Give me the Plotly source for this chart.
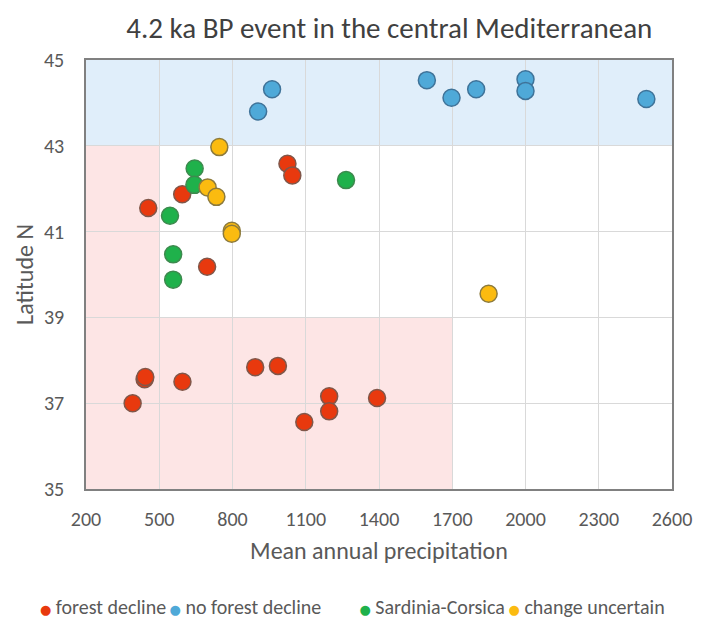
import plotly.graph_objects as go

# ---- data ----
decline_x = [1025, 1045, 594, 455, 696, 440, 443, 391, 595, 893, 986, 1196, 1196, 1094, 1392]
decline_y = [42.58, 42.31, 41.87, 41.55, 40.18, 37.56, 37.61, 37.0, 37.5, 37.84, 37.87, 37.16, 36.81, 36.56, 37.12]

nodecl_x = [962, 905, 1596, 1697, 1798, 2000, 2000, 2495]
nodecl_y = [44.32, 43.80, 44.53, 44.12, 44.32, 44.55, 44.28, 44.09]

sardc_x = [645, 644, 1265, 544, 557, 557]
sardc_y = [42.47, 42.09, 42.2, 41.37, 40.47, 39.88]

uncert_x = [746, 698, 734, 797, 797, 1849]
uncert_y = [42.97, 42.03, 41.81, 41.02, 40.95, 39.55]

series_names = ["forest decline", "no forest decline", "Sardinia-Corsica", "change uncertain"]
series_colors = ["#e8390e", "#4fa9d8", "#1fb14b", "#fbbb10"]
outline_colors = ["#80574a", "#3f7399", "#3d8a4e", "#8c7a3c"]

# shaded zones (data units)
north_zone = dict(x0=200, x1=2600, y0=43, y1=45)
dry_zone_a = dict(x0=200, x1=500, y0=35, y1=43)
dry_zone_b = dict(x0=500, x1=1700, y0=35, y1=39)

x_range = [200, 2600]
y_range = [35, 45]
x_ticks = [200, 500, 800, 1100, 1400, 1700, 2000, 2300, 2600]
y_ticks = [35, 37, 39, 41, 43, 45]

FONT = "Carlito, Lato, 'Open Sans', sans-serif"

# one legend box per entry, laid out in a row along the bottom
legend_ids = ["legend", "legend2", "legend3", "legend4"]
legend_x = [-0.0135, 0.184, 0.4538, 0.6655]

fig = go.Figure()

all_x = [decline_x, nodecl_x, sardc_x, uncert_x]
all_y = [decline_y, nodecl_y, sardc_y, uncert_y]

for xs, ys, name, col, oc in zip(all_x, all_y, series_names, series_colors, outline_colors):
    fig.add_trace(go.Scatter(
        x=xs, y=ys, mode="markers", name=name, showlegend=False,
        marker=dict(size=17, color=col, line=dict(color=oc, width=1.5)),
    ))

# legend entries: coloured bullet set tight against the label
for name, col, lid in zip(series_names, series_colors, legend_ids):
    label = f"<span style='color:{col};font-family:DejaVu Sans;font-size:13px'>●</span> {name}"
    fig.add_trace(go.Scatter(
        x=[None], y=[None], mode="markers", name=label, legend=lid,
        marker=dict(size=1, color="rgba(0,0,0,0)", line=dict(width=0, color="rgba(0,0,0,0)")),
    ))

shape_style_pink = dict(fillcolor="#fde5e5", line=dict(width=0), layer="below", type="rect", xref="x", yref="y")
shape_style_blue = dict(fillcolor="#e0eefa", line=dict(width=0), layer="below", type="rect", xref="x", yref="y")

fig.add_shape(**north_zone, **shape_style_blue)
fig.add_shape(**dry_zone_a, **shape_style_pink)
fig.add_shape(**dry_zone_b, **shape_style_pink)

fig.update_layout(
    width=704, height=624,
    margin=dict(l=86, r=25, t=60, b=135),
    paper_bgcolor="white", plot_bgcolor="white",
    font=dict(family=FONT, color="#595959", size=19),
    title=dict(text="4.2 ka BP event in the central Mediterranean",
               x=0.553, xanchor="center", y=0.955, yanchor="middle",
               font=dict(size=29, color="#404040", family=FONT)),
    xaxis=dict(range=x_range, tickvals=x_ticks, showgrid=True, gridcolor="#d9d9d9", gridwidth=1,
               zeroline=False, showline=True, linecolor="#808080", linewidth=1.5, mirror=True,
               ticks="", ticklabelstandoff=11, tickfont=dict(size=20, color="#595959"),
               title=dict(text="Mean annual precipitation", font=dict(size=24, color="#595959"), standoff=12)),
    yaxis=dict(range=y_range, tickvals=y_ticks, showgrid=True, gridcolor="#d9d9d9", gridwidth=1,
               zeroline=False, showline=True, linecolor="#808080", linewidth=1.5, mirror=True,
               ticks="", ticklabelstandoff=16, tickfont=dict(size=20, color="#595959"),
               title=dict(text="Latitude N", font=dict(size=24, color="#595959"), standoff=4)),
)

for lid, lx in zip(legend_ids, legend_x):
    fig.update_layout({lid: dict(orientation="h", xref="container", yref="container", x=lx, xanchor="left",
                                 y=0.029, yanchor="middle", font=dict(size=20, color="#595959"),
                                 itemwidth=30, bgcolor="rgba(0,0,0,0)")})

fig.write_html("out.html", config={"displayModeBar": False},
               post_script="document.body.style.margin='0px';")
